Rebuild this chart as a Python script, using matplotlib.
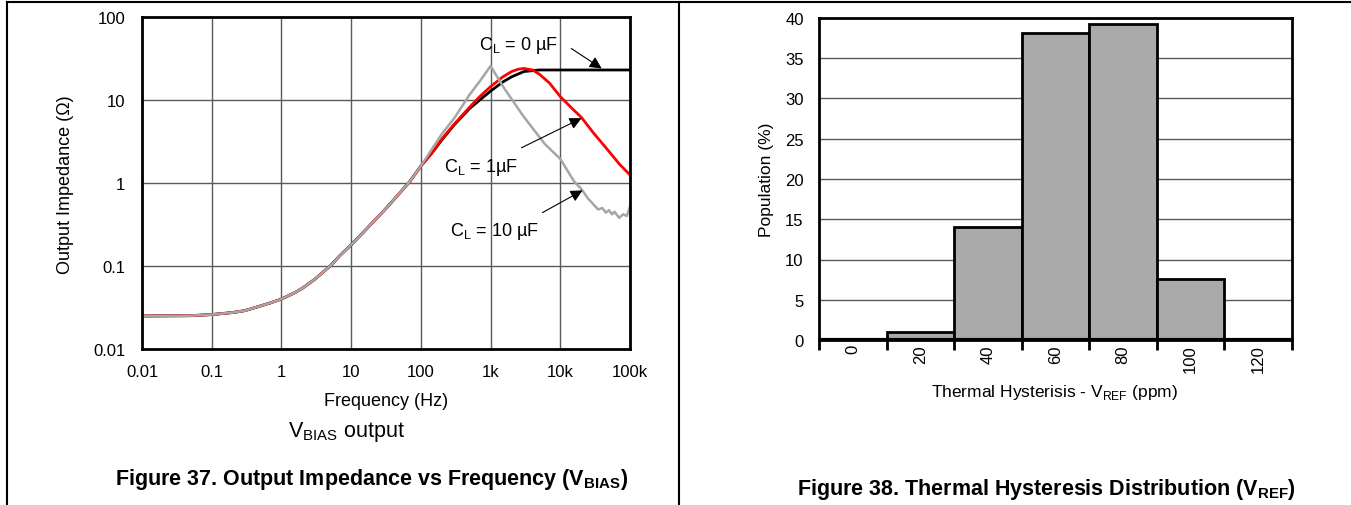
import matplotlib
matplotlib.use('Agg')
import matplotlib.pyplot as plt
import numpy as np
from matplotlib.lines import Line2D

plt.rcParams['font.family'] = ['Liberation Sans', 'DejaVu Sans']
plt.rcParams['mathtext.fontset'] = 'custom'
plt.rcParams['mathtext.rm'] = 'Liberation Sans'
plt.rcParams['mathtext.bf'] = 'Liberation Sans:bold'

# ---- Figure 37 data: output impedance vs frequency ----
freq_low = [0.01, 0.05, 0.1, 0.2, 0.3, 0.5, 0.7, 1, 1.5, 2, 3, 5, 7, 10, 15,
            20, 30, 50, 70, 100]
z_low = [0.025, 0.0252, 0.026, 0.0275, 0.029, 0.033, 0.036, 0.04, 0.047, 0.054,
         0.069, 0.10, 0.135, 0.18, 0.255, 0.33, 0.47, 0.76, 1.05, 1.6]

freq_cl0 = [150, 200, 300, 500, 700, 1000, 1500, 2000, 3000, 5000, 10000, 30000, 100000]
z_cl0 = [2.4, 3.3, 5.0, 7.9, 10.0, 12.8, 16.5, 19.0, 22.0, 23.0, 23.0, 23.0, 23.0]

freq_cl1 = [150, 200, 300, 500, 700, 1000, 1500, 2000, 2500, 3000, 4000, 5000, 7000,
            10000, 15000, 20000, 30000, 50000, 70000, 100000]
z_cl1 = [2.4, 3.4, 5.1, 8.2, 11.0, 14.5, 19.0, 22.0, 23.5, 24.0, 23.0, 20.5, 16.0,
         11.0, 7.8, 6.2, 4.0, 2.4, 1.7, 1.25]

freq_cl10 = [150, 200, 300, 500, 700, 1000, 1300, 1600, 2000, 2800, 3500, 6000,
             10000, 14000, 16000, 20000, 25000, 30000, 35000, 40000, 45000, 50000,
             55000, 60000, 70000, 80000, 90000, 100000]
z_cl10 = [2.7, 3.9, 6.0, 11.6, 16.8, 25.7, 17.9, 13.5, 10.3, 6.8, 5.3, 2.95,
          1.95, 1.23, 1.03, 0.85, 0.65, 0.55, 0.48, 0.50, 0.44, 0.47,
          0.42, 0.45, 0.38, 0.42, 0.40, 0.52]

x_ticks = [0.01, 0.1, 1, 10, 100, 1000, 10000, 100000]
x_ticklabels = ['0.01', '0.1', '1', '10', '100', '1k', '10k', '100k']
y_ticks = [0.01, 0.1, 1, 10, 100]
y_ticklabels = ['0.01', '0.1', '1', '10', '100']

# ---- Figure 38 data: thermal hysteresis histogram ----
bins = ['0', '20', '40', '60', '80', '100', '120']
population = [0, 1.0, 14.0, 38.1, 39.2, 7.6, 0]

W, H = 1351, 506
fig = plt.figure(figsize=(W / 100, H / 100), dpi=100)


def fig_px(x, y):
    # pixel position (from top-left) -> figure fraction
    return x / W, 1 - y / H


# panel frame lines
fig.add_artist(Line2D([7 / W, 1], [1 - 3 / H, 1 - 3 / H], color='black', lw=1.5))
fig.add_artist(Line2D([7 / W, 7 / W], [0, 1 - 3 / H], color='black', lw=1.5))
fig.add_artist(Line2D([679 / W, 679 / W], [0, 1 - 3 / H], color='black', lw=1.5))

# ---------------- left panel ----------------
ax1 = fig.add_axes([142 / W, 1 - 350 / H, 488 / W, 332 / H])
ax1.set_xscale('log')
ax1.set_yscale('log')
ax1.plot(freq_low + freq_cl0, z_low + z_cl0, color='black', lw=2)
ax1.plot(freq_low + freq_cl1, z_low + z_cl1, color='#ff0000', lw=2)
ax1.plot(freq_low + freq_cl10, z_low + z_cl10, color='#a6a6a6', lw=1.8)
ax1.set_xlim(0.01, 1e5)
ax1.set_ylim(0.01, 100)
ax1.set_xticks(x_ticks)
ax1.set_xticklabels(x_ticklabels)
ax1.set_yticks(y_ticks)
ax1.set_yticklabels(y_ticklabels)
ax1.minorticks_off()
ax1.tick_params(axis='x', length=0, labelsize=12, pad=11)
ax1.tick_params(axis='y', length=0, labelsize=12, pad=12)
ax1.grid(True, color='#5a5a5a', lw=1)
for sp in ax1.spines.values():
    sp.set_linewidth(2)
ax1.set_xlabel('Frequency (Hz)', fontsize=13, va='center')
ax1.xaxis.set_label_coords((386 - 142) / 488, -(402 - 350) / 332)
ax1.set_ylabel('Output Impedance (Ω)', fontsize=13, va='center')
ax1.yaxis.set_label_coords((65 - 142) / 488, (350 - 185) / 332)

arrow = dict(arrowstyle='-|>', color='black', lw=0.8, mutation_scale=18)
for tip, tail in [((604, 71), (569, 48)),
                  ((584, 118), (519, 150)),
                  ((585, 190), (540, 215))]:
    ax1.annotate('', xy=fig_px(*tip), xytext=fig_px(*tail),
                 xycoords='figure fraction', textcoords='figure fraction',
                 arrowprops=arrow)

fig.text(*fig_px(518, 45), r'C$_\mathregular{L}$ = 0 µF', fontsize=13,
         ha='center', va='center')
fig.text(*fig_px(481, 167), r'C$_\mathregular{L}$ = 1µF', fontsize=13,
         ha='center', va='center')
fig.text(*fig_px(494, 232), r'C$_\mathregular{L}$ = 10 µF', fontsize=13,
         ha='center', va='center')

fig.text(*fig_px(347, 432), r'V$_\mathregular{BIAS}$ output', fontsize=15.5,
         ha='center', va='center')
fig.text(*fig_px(372, 480), r'Figure 37. Output Impedance vs Frequency (V$_\mathbf{BIAS}$)',
         fontsize=15.5, fontweight='bold', ha='center', va='center')

# ---------------- right panel ----------------
ax2 = fig.add_axes([819 / W, 1 - 341 / H, 473 / W, 322 / H])
pos = np.arange(len(bins))
ax2.bar(pos, population, width=1.0, color='#aaaaaa', edgecolor='black', lw=2,
        zorder=3)
ax2.set_xlim(-0.5, len(bins) - 0.5)
ax2.set_ylim(0, 40)
ax2.set_yticks(np.arange(0, 41, 5))
ax2.set_xticks(pos)
ax2.set_xticklabels(bins, rotation=90, va='top')
ax2.set_xticks(np.arange(-0.5, len(bins)), minor=True)
ax2.tick_params(axis='x', which='major', length=0, labelsize=12, pad=3)
ax2.tick_params(axis='x', which='minor', length=7, width=2, direction='out')
ax2.tick_params(axis='y', length=0, labelsize=12, pad=11)
ax2.yaxis.grid(True, color='#5a5a5a', lw=1, zorder=0)
ax2.set_axisbelow(True)
for sp in ax2.spines.values():
    sp.set_linewidth(2)
ax2.axhline(0, color='black', lw=3, zorder=4)
ax2.set_xlabel(r'Thermal Hysterisis - V$_\mathregular{REF}$ (ppm)', fontsize=12.5,
               va='center')
ax2.xaxis.set_label_coords((1055 - 819) / 473, -(392 - 341) / 322)
ax2.set_ylabel('Population (%)', fontsize=12.5, va='center')
ax2.yaxis.set_label_coords((766 - 819) / 473, 0.5)

fig.text(*fig_px(1046, 490), r'Figure 38. Thermal Hysteresis Distribution (V$_\mathbf{REF}$)',
         fontsize=15.5, fontweight='bold', ha='center', va='center')

fig.savefig('out.png', dpi=100)
